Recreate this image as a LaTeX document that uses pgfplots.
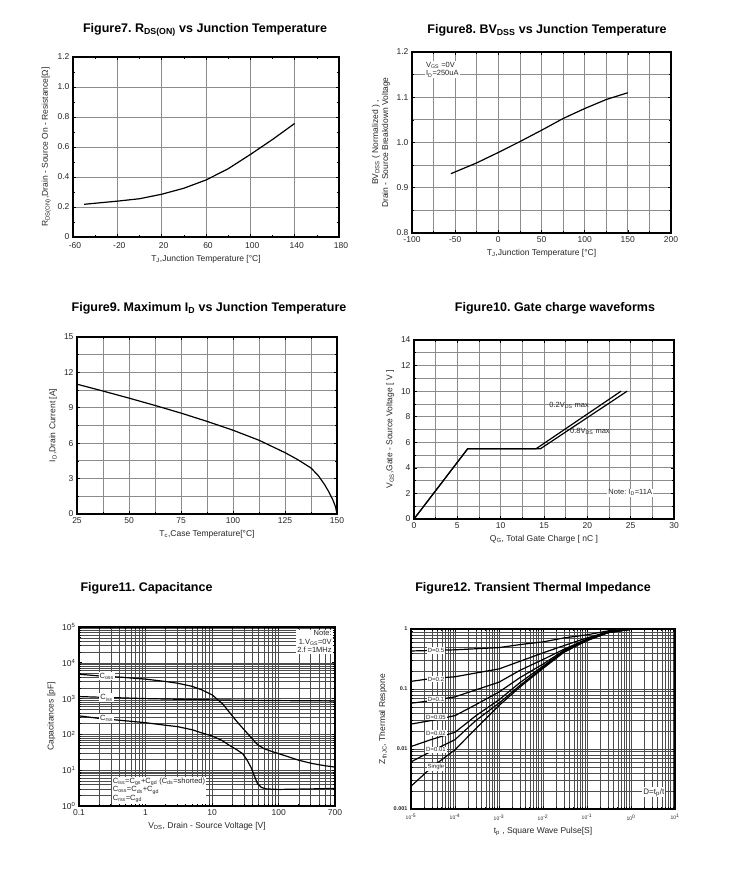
\documentclass[border=0pt]{standalone}
\usepackage{fontspec}
\setmainfont{Liberation Sans}
\usepackage{pgfplots}
\pgfplotsset{compat=1.18}
\frenchspacing

% common look of the datasheet panels
\pgfplotsset{
  sheet/.style={
    scale only axis, anchor=south west,
    axis line style={line width=1.2pt},
    major grid style={draw=black!45, line width=0.8pt},
    minor grid style={draw=black!45, line width=0.8pt},
    tick style={black, line width=0.6pt},
    major tick length=3pt, minor tick length=2pt,
    tick label style={font=\fontsize{8.5}{10}\selectfont, text=black!85},
    label style={font=\fontsize{8.5}{10}\selectfont, text=black!85},
    /pgf/number format/assume math mode=true,
    cycle list={black,solid,mark=none\\},
    every axis plot/.append style={line width=1.2pt},
  },
  logsheet/.style={sheet, grid=both,
    major grid style={draw=black!70, line width=0.5pt},
    minor grid style={draw=black!70, line width=0.5pt}},
}
\tikzset{
  ttl/.style={font=\bfseries\fontsize{12.5}{14}\selectfont},
  lbl/.style={fill=white, inner sep=1pt, font=\fontsize{7.5}{8.5}\selectfont, text=black!85},
}

\begin{document}
\begin{tikzpicture}
\path[use as bounding box] (0,0) rectangle (736pt,873pt);

\node[ttl] at (205pt,843pt) {Figure7. R\textsubscript{DS(ON)} vs Junction Temperature};
\node[ttl] at (547pt,843pt) {Figure8. BV\textsubscript{DSS} vs Junction Temperature};
\node[ttl] at (209pt,565pt) {Figure9. Maximum I\textsubscript{D} vs Junction Temperature};
\node[ttl] at (555pt,565pt) {Figure10. Gate charge waveforms};
\node[ttl, anchor=west] at (77pt,285pt) {Figure11. Capacitance};
\node[ttl] at (533pt,285pt) {Figure12. Transient Thermal Impedance};

% Figure 7
\begin{axis}[sheet, at={(73pt,636pt)}, width=266pt, height=180pt,
  xmin=-60, xmax=180, ymin=0, ymax=1.2,
  xtick={-60,-20,20,60,100,140,180},
  minor xtick={-40,0,40,80,120,160},
  ytick={0,0.2,0.4,0.6,0.8,1.0,1.2},
  yticklabels={0,0.2,0.4,0.6,0.8,1.0,1.2},
  minor ytick={0.1,0.3,0.5,0.7,0.9,1.1},
  grid=major,
  xticklabel style={yshift=-2pt, xshift=2pt},
  xlabel={T\textsubscript{J},Junction Temperature [°C]},
  ylabel={R\textsubscript{DS(ON)},Drain - Source On - Resistance[Ω]}]
\addplot coordinates {(-50,0.218)(-20,0.239)(0,0.255)(20,0.285)(40,0.325)
  (60,0.38)(80,0.455)(100,0.55)(120,0.65)(140,0.757)};
\end{axis}

% Figure 8
\begin{axis}[sheet, at={(412pt,640pt)}, width=259pt, height=181pt,
  xmin=-100, xmax=200, ymin=0.8, ymax=1.2,
  xtick={-100,-50,0,50,100,150,200},
  minor xtick={-75,-25,25,75,125,175},
  ytick={0.8,0.9,1.0,1.1,1.2},
  yticklabels={0.8,0.9,1.0,1.1,1.2},
  minor ytick={0.85,0.95,1.05,1.15},
  grid=both,
  xlabel={T\textsubscript{J},Junction Temperature [°C]},
  ylabel={BV\textsubscript{DSS} ( Normalized ) ,\\Drain - Source Breakdown Voltage},
  ylabel style={align=center}]
\addplot coordinates {(-55,0.931)(-25,0.955)(0,0.978)(25,1.002)(50,1.027)
  (75,1.053)(100,1.075)(125,1.095)(150,1.11)};
\node[lbl, anchor=north west, align=left] at (axis cs:-85,1.18)
  {V\textsubscript{GS} =0V\\I\textsubscript{D}=250uA};
\end{axis}

% Figure 9
\begin{axis}[sheet, at={(77pt,359pt)}, width=260pt, height=177pt,
  xmin=25, xmax=150, ymin=0, ymax=15,
  xtick={25,50,75,100,125,150},
  minor xtick={37.5,62.5,87.5,112.5,137.5},
  ytick={0,3,6,9,12,15},
  minor ytick={1.5,4.5,7.5,10.5,13.5},
  grid=both,
  xlabel={T\textsubscript{c},Case Temperature[°C]},
  ylabel={I\textsubscript{D},Drain Current [A]}]
\addplot coordinates {(25,11.0)(37.5,10.42)(50,9.82)(62.5,9.2)(75,8.55)
  (87.5,7.85)(100,7.1)(112.5,6.25)(125,5.2)(131,4.62)(137.5,3.9)(141,3.25)
  (144,2.5)(146,1.9)(148,1.2)(149.3,0.6)(150,0)};
\end{axis}

% Figure 10
\begin{axis}[sheet, at={(414pt,354pt)}, width=260pt, height=179pt,
  xmin=0, xmax=30, ymin=0, ymax=14,
  xtick={0,5,10,15,20,25,30},
  minor xtick={2.5,7.5,12.5,17.5,22.5,27.5},
  ytick={0,2,4,6,8,10,12,14},
  minor ytick={1,3,5,7,9,11,13},
  grid=both,
  xlabel={Q\textsubscript{G}, Total Gate Charge [ nC ]},
  ylabel={V\textsubscript{GS},Gate - Source Voltage [ V ]}]
\addplot coordinates {(0,0)(6.2,5.5)(14.1,5.5)(23.9,10)};
\addplot coordinates {(0,0)(6.2,5.5)(14.6,5.5)(24.6,10)};
\node[font=\fontsize{7.5}{8.5}\selectfont, text=black!85, anchor=west, inner sep=0pt]
  at (axis cs:15.6,8.9) {0.2V\textsubscript{DS} max};
\node[font=\fontsize{7.5}{8.5}\selectfont, text=black!85, anchor=west, inner sep=0pt]
  at (axis cs:18.0,6.85) {0.8V\textsubscript{DS} max};
\node[lbl, anchor=west] at (axis cs:22.3,2.05) {Note: I\textsubscript{D}=11A};
\end{axis}

% Figure 11
\begin{loglogaxis}[logsheet, at={(79pt,67pt)}, width=256pt, height=179pt,
  xmin=0.1, xmax=700, ymin=1, ymax=1e5,
  xtick={0.1,1,10,100,700},
  xticklabels={0.1,1,10,100,700},
  minor xtick={0.2,0.3,0.4,0.5,0.6,0.7,0.8,0.9,2,3,4,5,6,7,8,9,
    20,30,40,50,60,70,80,90,200,300,400,500,600},
  ytick={1,10,100,1000,10000,100000},
  yticklabels={10\textsuperscript{0},10\textsuperscript{1},10\textsuperscript{2},
    10\textsuperscript{3},10\textsuperscript{4},10\textsuperscript{5}},
  minor ytick={2,3,4,5,6,7,8,9,20,30,40,50,60,70,80,90,
    200,300,400,500,600,700,800,900,2000,3000,4000,5000,6000,7000,8000,9000,
    20000,30000,40000,50000,60000,70000,80000,90000},
  xlabel={V\textsubscript{DS}, Drain - Source Voltage [V]},
  ylabel={Capacitances [pF]}]
\addplot coordinates {(0.1,4800)(0.2,4300)(0.4,4000)(1,3500)(2,3000)(3,2700)
  (5,2200)(7,1750)(10,1270)(14.5,700)(20,330)(25,200)(32,120)(40,75)(48,52)
  (60,40)(80,33)(100,29)(200,19)(316,15.4)(500,13.3)(700,12.2)};
\addplot coordinates {(0.1,1140)(0.3,1070)(1,1000)(3,960)(10,920)(30,900)
  (100,880)(300,870)(700,860)};
\addplot coordinates {(0.1,330)(0.2,280)(0.5,240)(1,212)(2,180)(3,165)(5,135)
  (7,110)(10,90)(14,68)(18,50)(23,38)(28.7,29)(33,20)(38,12.4)(43,7)(48,4.2)
  (55,3.3)(65,3.0)(100,2.9)(300,3.0)(700,3.1)};
\node[lbl] at (axis cs:0.26,4200) {C\textsubscript{oss}};
\node[lbl] at (axis cs:0.26,1050) {C\textsubscript{iss}};
\node[lbl] at (axis cs:0.26,280) {C\textsubscript{rss}};
\node[lbl, anchor=north east, align=right] at (axis cs:650,85000)
  {Note:\\1.V\textsubscript{GS}=0V\\2.f =1MHz};
\node[lbl, anchor=south west, align=left] at (axis cs:0.31,1.15)
  {C\textsubscript{iss}=C\textsubscript{gs}+C\textsubscript{gd} (C\textsubscript{ds}=shorted)\\
   C\textsubscript{oss}=C\textsubscript{ds}+C\textsubscript{gd}\\
   C\textsubscript{rss}=C\textsubscript{gd}};
\end{loglogaxis}

% Figure 12
\begin{loglogaxis}[logsheet, at={(411pt,64pt)}, width=264pt, height=180pt,
  xmin=1e-5, xmax=10, ymin=0.001, ymax=1,
  xtick={1e-5,1e-4,1e-3,1e-2,1e-1,1,10},
  xticklabels={10\textsuperscript{-5},10\textsuperscript{-4},10\textsuperscript{-3},
    10\textsuperscript{-2},10\textsuperscript{-1},10\textsuperscript{0},10\textsuperscript{1}},
  minor xtick={2e-5,3e-5,4e-5,5e-5,6e-5,7e-5,8e-5,9e-5,
    2e-4,3e-4,4e-4,5e-4,6e-4,7e-4,8e-4,9e-4,
    2e-3,3e-3,4e-3,5e-3,6e-3,7e-3,8e-3,9e-3,
    0.02,0.03,0.04,0.05,0.06,0.07,0.08,0.09,
    0.2,0.3,0.4,0.5,0.6,0.7,0.8,0.9,2,3,4,5,6,7,8,9},
  ytick={0.001,0.01,0.1,1},
  yticklabels={0.001,0.01,0.1,1},
  minor ytick={0.002,0.003,0.004,0.005,0.006,0.007,0.008,0.009,
    0.02,0.03,0.04,0.05,0.06,0.07,0.08,0.09,0.2,0.3,0.4,0.5,0.6,0.7,0.8,0.9},
  xticklabel style={font=\fontsize{5}{6}\selectfont, yshift=-2pt},
  yticklabel style={font=\bfseries\fontsize{5.5}{6}\selectfont},
  xlabel={t\textsubscript{p} ,  Square Wave Pulse[S]},
  ylabel={Z\textsubscript{thJC}, Thermal Respone}]
\addplot coordinates {(1e-5,0.43)(1e-4,0.45)(1e-3,0.49)(3e-3,0.55)(1e-2,0.61)
  (3e-2,0.71)(1e-1,0.80)(3e-1,0.93)(1,1.0)(10,1.0)};
\addplot coordinates {(1e-5,0.134)(3e-5,0.15)(1e-4,0.16)(3e-4,0.185)(1e-3,0.216)
  (3e-3,0.29)(1e-2,0.40)(3e-2,0.53)(1e-1,0.71)(3e-1,0.9)(1,0.99)(10,1.0)};
\addplot coordinates {(1e-5,0.058)(3e-5,0.064)(1e-4,0.074)(3e-4,0.097)(1e-3,0.13)
  (3e-3,0.205)(1e-2,0.31)(3e-2,0.46)(1e-1,0.68)(3e-1,0.89)(1,0.99)(10,1.0)};
\addplot coordinates {(1e-5,0.026)(3e-5,0.030)(1e-4,0.036)(3e-4,0.055)(1e-3,0.089)
  (3e-3,0.155)(1e-2,0.26)(3e-2,0.44)(1e-1,0.66)(3e-1,0.88)(1,0.99)(10,1.0)};
\addplot coordinates {(1e-5,0.011)(3e-5,0.0145)(1e-4,0.019)(3e-4,0.036)(1e-3,0.066)
  (3e-3,0.128)(1e-2,0.24)(3e-2,0.43)(1e-1,0.65)(3e-1,0.88)(1,0.99)(10,1.0)};
\addplot coordinates {(1e-5,0.0061)(3e-5,0.0093)(1e-4,0.0143)(3e-4,0.030)(1e-3,0.058)
  (3e-3,0.115)(1e-2,0.23)(3e-2,0.42)(1e-1,0.645)(3e-1,0.87)(1,0.99)(10,1.0)};
\addplot coordinates {(1e-5,0.0024)(3e-5,0.0050)(1e-4,0.0097)(3e-4,0.022)(1e-3,0.053)
  (3e-3,0.108)(1e-2,0.22)(3e-2,0.41)(1e-1,0.64)(3e-1,0.87)(1,0.99)(10,1.0)};
\node[lbl, font=\fontsize{6}{7}\selectfont] at (axis cs:3.7e-5,0.44) {D=0.5};
\node[lbl, font=\fontsize{6}{7}\selectfont] at (axis cs:3.7e-5,0.145) {D=0.2};
\node[lbl, font=\fontsize{6}{7}\selectfont] at (axis cs:3.7e-5,0.068) {D=0.1};
\node[lbl, font=\fontsize{6}{7}\selectfont] at (axis cs:3.7e-5,0.034) {D=0.05};
\node[lbl, font=\fontsize{6}{7}\selectfont] at (axis cs:3.7e-5,0.0185) {D=0.02};
\node[lbl, font=\fontsize{6}{7}\selectfont] at (axis cs:3.7e-5,0.0097) {D=0.01};
\node[lbl, font=\fontsize{6}{7}\selectfont] at (axis cs:3.7e-5,0.005) {Single};
\node[lbl, font=\fontsize{8}{9}\selectfont] at (axis cs:3.3,0.0019) {D=t\textsubscript{p}/t};
\end{loglogaxis}
\end{tikzpicture}
\end{document}
